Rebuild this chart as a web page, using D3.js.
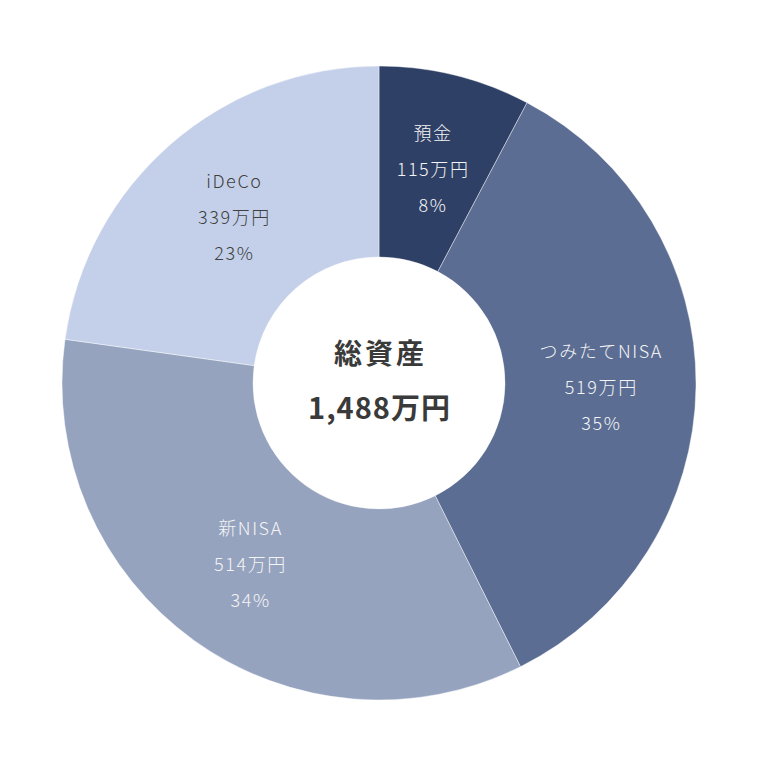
<!DOCTYPE html>
<html><head><meta charset="utf-8">
<script src="https://cdn.jsdelivr.net/npm/d3@7"></script>
<style>html,body{margin:0;padding:0;background:#fff;}</style>
</head><body>
<svg id="c" width="758" height="766"></svg>
<script>
const categories = ["預金", "つみたてNISA", "新NISA", "iDeCo"];
const values = [115, 519, 514, 339];
const percents = ["8%", "35%", "34%", "23%"];
const colors = ["#2e4066", "#5b6d93", "#95a3bf", "#c4d0e9"];
const labelColors = ["#f4f4f4", "#f4f4f4", "#f4f4f4", "#404040"];
const centerTitle = "総資産";
const centerTotal = "1,488万円";

const svg = d3.select("#c");
const cx = 379, cy = 383, rOuter = 317, rInner = 126;
const g = svg.append("g").attr("transform", `translate(${cx},${cy})`);
const data = categories.map((c, i) => ({cat: c, value: values[i], pct: percents[i], color: colors[i], lc: labelColors[i]}));
const pie = d3.pie().sort(null).value(d => d.value);
const arc = d3.arc().innerRadius(rInner).outerRadius(rOuter);
const arcs = pie(data);

g.selectAll("path").data(arcs).join("path")
  .attr("d", arc)
  .attr("fill", d => d.data.color)
  .attr("stroke", "rgba(255,255,255,0.6)")
  .attr("stroke-width", 0.7);

const font = "'Noto Sans CJK JP', 'Noto Sans', sans-serif";
const lab = g.selectAll("g.lab").data(arcs).join("g").attr("class", "lab")
  .attr("transform", d => `translate(${arc.centroid(d)})`);
lab.each(function(d) {
  const lines = [d.data.cat, d.data.value + "万円", d.data.pct];
  d3.select(this).selectAll("text").data(lines).join("text")
    .attr("y", (t, i) => (i - 1) * 36)
    .attr("dx", 0.8)
    .attr("text-anchor", "middle")
    .attr("dominant-baseline", "central")
    .attr("font-family", font)
    .attr("font-weight", 300)
    .attr("font-size", 18)
    .attr("letter-spacing", 1.6)
    .attr("fill", d.data.lc)
    .text(t => t);
});

g.append("text").attr("y", -31).attr("dx", 1.5).attr("text-anchor", "middle").attr("dominant-baseline", "central")
  .attr("font-family", font).attr("font-weight", 700).attr("font-size", 28).attr("letter-spacing", 3)
  .attr("fill", "#3a3a3a")
  .text(centerTitle);
g.append("text").attr("y", 23).attr("dx", 0.5).attr("text-anchor", "middle").attr("dominant-baseline", "central")
  .attr("font-family", font).attr("font-weight", 700).attr("font-size", 29).attr("letter-spacing", 1)
  .attr("fill", "#3a3a3a")
  .text(centerTotal);
</script>
</body></html>
